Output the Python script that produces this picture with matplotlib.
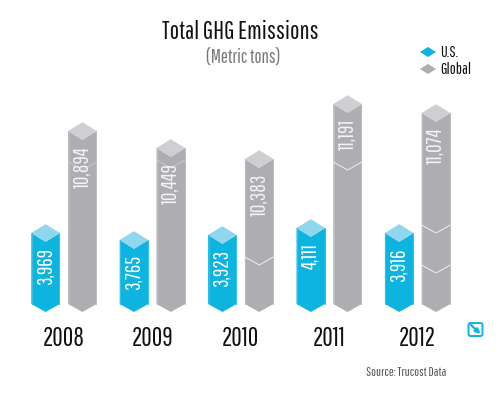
import matplotlib
matplotlib.use("Agg")
import matplotlib.pyplot as plt
from matplotlib import font_manager as fm
from matplotlib.patches import Polygon, FancyBboxPatch, FancyArrowPatch

years = ["2008", "2009", "2010", "2011", "2012"]
us_values = ["3,969", "3,765", "3,923", "4,111", "3,916"]
global_values = ["10,894", "10,449", "10,383", "11,191", "11,074"]

# the bars are not drawn to a true scale in the original, so heights are read off it
us_heights = [71, 64, 69, 76, 71]
global_heights = [173, 156, 145, 200, 191]
# crease lines on the gray bars, as (year index, height, strength)
creases = [(0, 142, 0.35), (1, 144, 0.35), (2, 47, 0.8), (3, 142, 0.8), (4, 79, 0.8), (4, 39, 0.8)]

# pick a narrow gothic if there is one
installed = {f.name for f in fm.fontManager.ttflist}
narrow = [n for n in ["Pathway Gothic One", "League Gothic", "Oswald", "Archivo Narrow", "Liberation Sans"] if n in installed]
plt.rcParams["font.family"] = narrow + ["DejaVu Sans"]

BLUE = "#0db4e0"
BLUE_TOP = "#8fd6ee"
GRAY = "#aeadb2"
GRAY_TOP = "#cfcfd1"

half_w = 14.3
tip = 8.8
drop = 8


def draw_bar(ax, x, h, color, top_color, edge):
    ax.add_patch(Polygon([(x - half_w, 0), (x, -drop), (x + half_w, 0), (x + half_w, h),
                          (x, h - tip), (x - half_w, h)], closed=True, fc=color, ec="none"))
    ax.add_patch(Polygon([(x - half_w, h), (x, h - tip), (x + half_w, h), (x, h + tip)],
                         closed=True, fc=top_color, ec="none"))
    ax.plot([x - half_w + 0.5] * 2, [0, h], color=edge, lw=0.7)
    ax.plot([x + half_w - 0.5] * 2, [0, h], color=edge, lw=0.7)


fig = plt.figure(figsize=(5, 3.93), dpi=100)
ax = fig.add_axes([0, 0, 1, 1])
ax.set_xlim(0, 500)
ax.set_ylim(-89, 304)
ax.axis("off")

group_x = [64 + 88.4 * i for i in range(len(years))]

for i, x in enumerate(group_x):
    draw_bar(ax, x - 18.4, us_heights[i], BLUE, BLUE_TOP, "#35c0e6")
    draw_bar(ax, x + 18.4, global_heights[i], GRAY, GRAY_TOP, "#bcbbc0")
    ax.text(x - 18.9, us_heights[i] - 15, us_values[i], rotation=90, color="white",
            fontsize=15, ha="center", va="top")
    ax.text(x + 18.1, global_heights[i] - 15, global_values[i], rotation=90, color="#f4f4f5",
            fontsize=15, ha="center", va="top")
    ax.text(x, -35, years[i], fontsize=18.5, color="#111111", ha="center", va="center")

for i, h, strength in creases:
    x = group_x[i] + 18.4
    ax.plot([x - half_w, x, x + half_w], [h, h - drop, h], color="white", lw=0.7, alpha=strength)

ax.text(240, 272, "Total GHG Emissions", fontsize=18, color="#111111", ha="center", va="center")
ax.text(243, 247, "(Metric tons)", fontsize=13.5, color="#77777b", ha="center", va="center")

# legend
for y, c, label in [(252, BLUE, "U.S."), (235, GRAY, "Global")]:
    ax.add_patch(Polygon([(420, y), (428, y + 5), (436, y), (428, y - 5)], closed=True, fc=c, ec="none"))
    ax.text(440, y - 0.5, label, fontsize=11.5, color="#111111", ha="left", va="center")

# expand icon
ax.add_patch(FancyBboxPatch((468.5, -32), 14, 13, boxstyle="round,pad=0,rounding_size=2",
                            fc="white", ec=BLUE, lw=1.4))
ax.add_patch(FancyArrowPatch((471, -21), (480.5, -30), arrowstyle="-|>", mutation_scale=7,
                             color=BLUE, lw=1.6, shrinkA=0, shrinkB=0))

ax.text(406.5, -69, "Source: Trucost Data", fontsize=9.3, color="#555555", ha="center", va="center")

plt.savefig("out.png", dpi=100)
plt.close()
